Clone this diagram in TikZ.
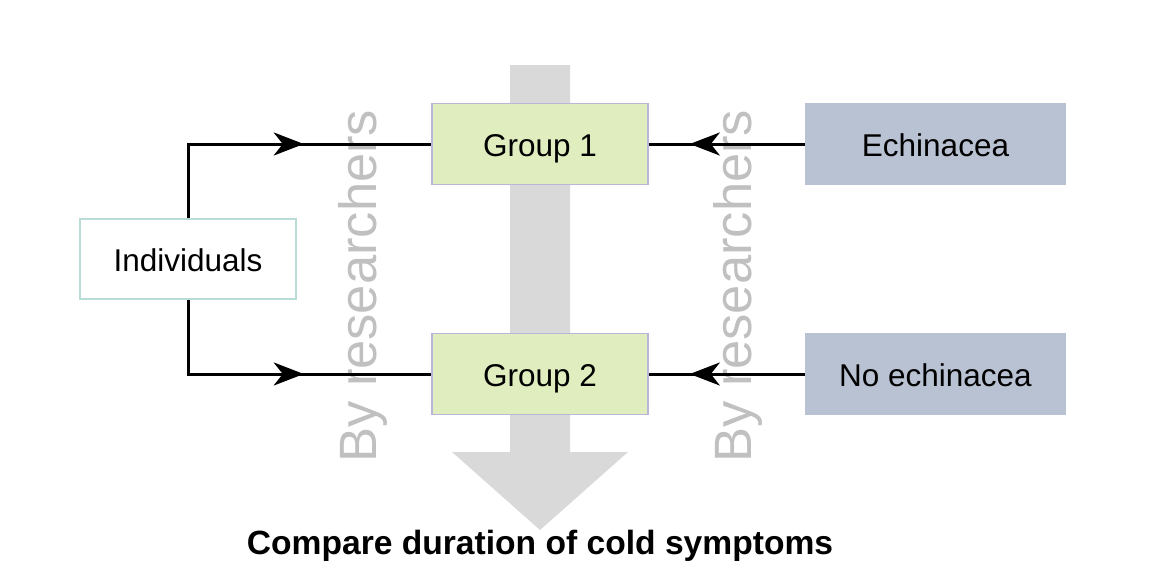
\documentclass[tikz,border=0pt]{standalone}
\usepackage{fontspec}
\setmainfont{Liberation Sans}
\usetikzlibrary{arrows.meta,decorations.markings}
\definecolor{grpfill}{RGB}{223,237,191}
\definecolor{grpdraw}{RGB}{184,182,217}
\definecolor{trtfill}{RGB}{184,194,210}
\definecolor{inddraw}{RGB}{185,220,214}
\definecolor{bigarrow}{RGB}{217,217,217}
\definecolor{bytext}{RGB}{192,192,192}
\tikzset{
  boxtext/.style={inner sep=0pt, text height=26pt, text depth=1.5pt, font=\fontsize{31.5}{36}\selectfont},
  grpbox/.style={boxtext, draw=grpdraw, line width=1.5pt, fill=grpfill, minimum width=216pt, minimum height=81pt},
  trtbox/.style={boxtext, fill=trtfill, minimum width=261pt, minimum height=82pt},
  indbox/.style={boxtext, draw=inddraw, line width=1.5pt, fill=white, minimum width=216pt, minimum height=80pt},
  bylabel/.style={rotate=90, anchor=base west, inner sep=0pt, text=bytext, font=\fontsize{52.5}{60}\selectfont},
  conn/.style={line width=3pt, draw=black},
  midtip/.style={postaction={decorate}, decoration={markings, mark=at position #1 with {\arrow{Stealth[length=30pt,width=23pt,inset=9pt]}}}}
}
\begin{document}
\begin{tikzpicture}[x=1pt,y=-1pt]
\useasboundingbox (0,0) rectangle (1152,576);
% big gray arrow
\fill[bigarrow] (510,65) -- (570,65) -- (570,452) -- (628,452) -- (540,530) -- (452,452) -- (510,452) -- cycle;
% vertical labels
\node[bylabel] (by1) at (376,463) {By researchers};
\node[bylabel] (by2) at (751,463) {By researchers};
% nodes
\node[grpbox] (g1) at (540,144) {Group 1};
\node[grpbox] (g2) at (540,374) {Group 2};
\node[trtbox] (ech) at (935.5,144) {Echinacea};
\node[trtbox] (noech) at (935.5,374) {No echinacea};
\node[indbox] (ind) at (188,259) {Individuals};
% connectors
\draw[conn, midtip=190pt] (ind.north) |- (g1.west);
\draw[conn, midtip=190pt] (ind.south) |- (g2.west);
\draw[conn, midtip=115pt] (ech.west) -- (g1.east);
\draw[conn, midtip=115pt] (noech.west) -- (g2.east);
% title
\node[font=\fontsize{33.6}{40}\selectfont\bfseries] (title) at (540,546) {Compare duration of cold symptoms};
\end{tikzpicture}
\end{document}
